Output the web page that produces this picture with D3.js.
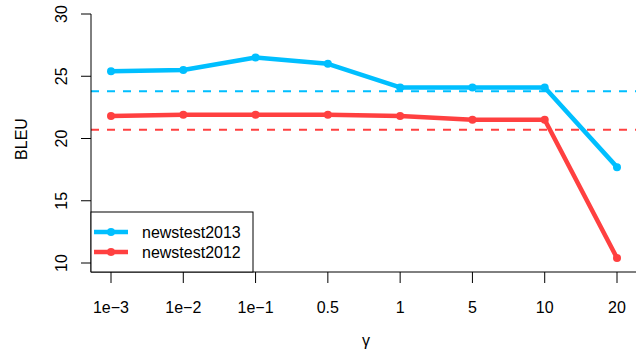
<!DOCTYPE html>
<html><head><meta charset="utf-8">
<script src="https://cdn.jsdelivr.net/npm/d3@7"></script>
<style>body{margin:0;background:#fff}svg{display:block}text{font-family:"Liberation Sans",Arial,sans-serif;fill:#000}</style>
</head><body><svg id="c" width="636" height="352"></svg>
<script>
const categories = ["1e\u22123","1e\u22122","1e\u22121","0.5","1","5","10","20"];
const series2013 = [25.4,25.5,26.5,26.0,24.1,24.1,24.1,17.7];
const series2012 = [21.8,21.9,21.9,21.9,21.8,21.5,21.5,10.4];
const baseline2013 = 23.8;
const baseline2012 = 20.7;
const yTicks = [10,15,20,25,30];
const seriesNames = ["newstest2013","newstest2012"];
const colors = ["#00BFFF","#FF4040"];

const svg = d3.select("#c");
const x = d3.scalePoint().domain(categories).range([111,617]);
const y = d3.scaleLinear().domain([10,30]).range([263,14]);
const axisX = 91, axisY = 272;

// dashed baselines
[baseline2013, baseline2012].forEach((b,i)=>{
  svg.append("line").attr("x1",axisX).attr("x2",636).attr("y1",y(b)).attr("y2",y(b))
    .attr("stroke",colors[i]).attr("stroke-width",2).attr("stroke-dasharray","8,8");
});

// series
[series2013, series2012].forEach((s,i)=>{
  const line = d3.line().x((d,j)=>x(categories[j])).y(d=>y(d));
  svg.append("path").datum(s).attr("d",line).attr("fill","none")
    .attr("stroke",colors[i]).attr("stroke-width",4.5).attr("stroke-linejoin","round");
  svg.selectAll(null).data(s).enter().append("circle")
    .attr("cx",(d,j)=>x(categories[j])).attr("cy",d=>y(d)).attr("r",4).attr("fill",colors[i]);
});

// y axis
svg.append("line").attr("x1",axisX).attr("x2",axisX).attr("y1",y(30)).attr("y2",axisY).attr("stroke","#000");
yTicks.forEach(t=>{
  svg.append("line").attr("x1",axisX-10).attr("x2",axisX).attr("y1",y(t)).attr("y2",y(t)).attr("stroke","#000");
  svg.append("text").attr("transform",`translate(67,${y(t)}) rotate(-90)`).attr("text-anchor","middle")
    .attr("font-size",16).text(t);
});
// x axis
svg.append("line").attr("x1",axisX).attr("x2",636).attr("y1",axisY).attr("y2",axisY).attr("stroke","#000");
categories.forEach(c=>{
  svg.append("line").attr("x1",x(c)).attr("x2",x(c)).attr("y1",axisY).attr("y2",axisY+11).attr("stroke","#000");
  svg.append("text").attr("x",x(c)).attr("y",313).attr("text-anchor","middle").attr("font-size",16).text(c);
});
// axis titles
svg.append("text").attr("transform","translate(27,139) rotate(-90)").attr("text-anchor","middle").attr("font-size",16).text("BLEU");
svg.append("text").attr("x",366).attr("y",346).attr("text-anchor","middle").attr("font-size",16).text("\u03b3");

// legend
const lg = svg.append("g");
lg.append("rect").attr("x",axisX).attr("y",212).attr("width",162).attr("height",60).attr("fill","#fff").attr("stroke","#000");
seriesNames.forEach((n,i)=>{
  const yy = 232 + i*20;
  lg.append("line").attr("x1",94).attr("x2",128).attr("y1",yy).attr("y2",yy).attr("stroke",colors[i]).attr("stroke-width",4.5);
  lg.append("circle").attr("cx",111).attr("cy",yy).attr("r",4).attr("fill",colors[i]);
  lg.append("text").attr("x",142).attr("y",yy+6).attr("font-size",16).text(n);
});
</script></body></html>
